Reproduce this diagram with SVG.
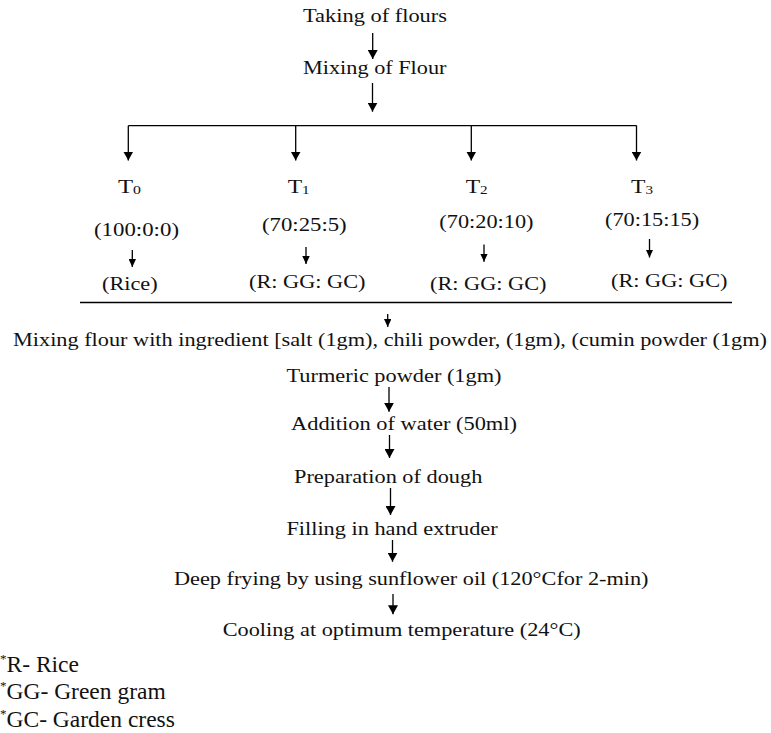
<svg xmlns="http://www.w3.org/2000/svg" width="771" height="733" viewBox="0 0 771 733">
<defs>
<style>
.t{font-family:"Liberation Serif","Times New Roman",serif;font-size:19.5px;fill:#111}
.fn{font-family:"Liberation Serif","Times New Roman",serif;font-size:23.5px;fill:#111}
.c{stroke:#000;stroke-width:1.3;fill:none}
.ab{marker-end:url(#big)}
.as{marker-end:url(#small)}
</style>
<marker id="big" markerUnits="userSpaceOnUse" markerWidth="9" markerHeight="10" refX="9" refY="5" orient="auto">
<path d="M0,0 L9,5 L0,10 z" fill="#000"/>
</marker>
<marker id="small" markerUnits="userSpaceOnUse" markerWidth="8" markerHeight="7.5" refX="8" refY="3.75" orient="auto">
<path d="M0,0 L8,3.75 L0,7.5 z" fill="#000"/>
</marker>
</defs>
<rect width="771" height="733" fill="#fff"/>

<g id="connectors">
<line class="c ab" x1="372.7" y1="33" x2="372.7" y2="59"/>
<line class="c ab" x1="372.5" y1="83" x2="372.5" y2="111.7"/>
<line class="c" x1="128.3" y1="125.7" x2="636.7" y2="125.7"/>
<line class="c ab" x1="128.3" y1="125.7" x2="128.3" y2="160.5"/>
<line class="c ab" x1="295.7" y1="125.7" x2="295.7" y2="160.5"/>
<line class="c ab" x1="471.3" y1="125.7" x2="471.3" y2="160.5"/>
<line class="c ab" x1="636.5" y1="125.7" x2="636.5" y2="160.5"/>
<line class="c as" x1="132.3" y1="250" x2="132.3" y2="267"/>
<line class="c as" x1="306" y1="247" x2="306" y2="264"/>
<line class="c as" x1="484" y1="244.5" x2="484" y2="261.7"/>
<line class="c as" x1="649.5" y1="239" x2="649.5" y2="257.5"/>
<line class="c" x1="80" y1="302.5" x2="732" y2="302.5" stroke-width="1.5"/>
<line class="c as" x1="387.7" y1="314" x2="387.7" y2="327"/>
<line class="c ab" x1="389" y1="387" x2="389" y2="411.7"/>
<line class="c ab" x1="389.5" y1="435" x2="389.5" y2="458"/>
<line class="c ab" x1="390.5" y1="488" x2="390.5" y2="515"/>
<line class="c ab" x1="392.5" y1="540" x2="392.5" y2="561.7"/>
<line class="c ab" x1="393" y1="594" x2="393" y2="614.3"/>
</g>

<g id="taking"><text class="t" x="303" y="22" textLength="144" lengthAdjust="spacingAndGlyphs">Taking of flours</text></g>
<g id="mixing"><text class="t" x="303" y="74" textLength="143.5" lengthAdjust="spacingAndGlyphs">Mixing of Flour</text></g>

<g id="t0"><text class="t" x="118" y="193" textLength="23" lengthAdjust="spacingAndGlyphs">T<tspan font-size="12.5" dy="1">0</tspan></text></g>
<g id="t1"><text class="t" x="287.7" y="193" textLength="22" lengthAdjust="spacingAndGlyphs">T<tspan font-size="12.5" dy="1">1</tspan></text></g>
<g id="t2"><text class="t" x="465.7" y="193" textLength="22" lengthAdjust="spacingAndGlyphs">T<tspan font-size="12.5" dy="1">2</tspan></text></g>
<g id="t3"><text class="t" x="631" y="192.7" textLength="22" lengthAdjust="spacingAndGlyphs">T<tspan font-size="12.5" dy="1">3</tspan></text></g>

<g id="r0"><text class="t" x="94" y="235.5" textLength="85" lengthAdjust="spacingAndGlyphs">(100:0:0)</text></g>
<g id="r1"><text class="t" x="262" y="230.7" textLength="84.7" lengthAdjust="spacingAndGlyphs">(70:25:5)</text></g>
<g id="r2"><text class="t" x="439.3" y="228.3" textLength="94.2" lengthAdjust="spacingAndGlyphs">(70:20:10)</text></g>
<g id="r3"><text class="t" x="605" y="226" textLength="94.2" lengthAdjust="spacingAndGlyphs">(70:15:15)</text></g>

<g id="c0"><text class="t" x="102" y="290" textLength="55.7" lengthAdjust="spacingAndGlyphs">(Rice)</text></g>
<g id="c1"><text class="t" x="249" y="288.3" textLength="116.5" lengthAdjust="spacingAndGlyphs">(R: GG: GC)</text></g>
<g id="c2"><text class="t" x="430" y="290" textLength="116.5" lengthAdjust="spacingAndGlyphs">(R: GG: GC)</text></g>
<g id="c3"><text class="t" x="611" y="286.7" textLength="116.5" lengthAdjust="spacingAndGlyphs">(R: GG: GC)</text></g>

<g id="ingredients"><text class="t" x="13" y="346" textLength="754" lengthAdjust="spacingAndGlyphs">Mixing flour with ingredient [salt (1gm), chili powder, (1gm), (cumin powder (1gm)</text>
<text class="t" x="286.5" y="381.7" textLength="215" lengthAdjust="spacingAndGlyphs">Turmeric powder (1gm)</text></g>
<g id="water"><text class="t" x="291" y="430" textLength="226" lengthAdjust="spacingAndGlyphs">Addition of water (50ml)</text></g>
<g id="dough"><text class="t" x="294" y="482.5" textLength="188.3" lengthAdjust="spacingAndGlyphs">Preparation of dough</text></g>
<g id="filling"><text class="t" x="286.4" y="535" textLength="211.3" lengthAdjust="spacingAndGlyphs">Filling in hand extruder</text></g>
<g id="frying"><text class="t" x="174" y="585" textLength="474.5" lengthAdjust="spacingAndGlyphs">Deep frying by using sunflower oil (120°Cfor 2-min)</text></g>
<g id="cooling"><text class="t" x="222.7" y="636" textLength="358" lengthAdjust="spacingAndGlyphs">Cooling at optimum temperature (24°C)</text></g>

<g id="legend">
<text class="fn" x="0" y="671.7"><tspan font-size="13" dy="-9">*</tspan><tspan dy="9">R- Rice</tspan></text>
<text class="fn" x="0" y="699.3"><tspan font-size="13" dy="-9">*</tspan><tspan dy="9">GG- Green gram</tspan></text>
<text class="fn" x="0" y="726.7"><tspan font-size="13" dy="-9">*</tspan><tspan dy="9">GC- Garden cress</tspan></text>
</g>
</svg>
